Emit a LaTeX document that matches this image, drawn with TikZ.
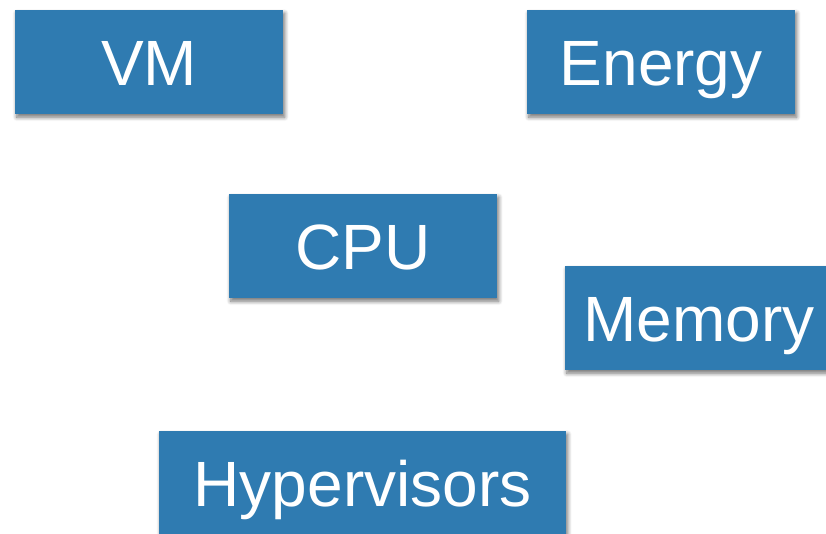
\documentclass[tikz,border=0pt]{standalone}
\usepackage{fontspec}
\setmainfont{Liberation Sans}
\usetikzlibrary{shadows.blur}
\definecolor{boxblue}{HTML}{2F7BB1}
\tikzset{
  tile/.style={rectangle, fill=boxblue, draw=none, anchor=north west,
    minimum width=268pt, minimum height=104pt, inner sep=0pt,
    text=white, font=\fontsize{64}{70}\selectfont,
    text height=46pt, text depth=0pt,
    blur shadow={shadow xshift=1.5pt, shadow yshift=-3pt, shadow blur radius=4pt, shadow blur steps=6, shadow opacity=55}},
}
\begin{document}
\begin{tikzpicture}[x=1pt,y=-1pt]
\useasboundingbox (0,0) rectangle (826,533);
\node[tile] (vm) at (15,10) {VM};
\node[tile] (energy) at (527,10) {Energy};
\node[tile] (cpu) at (229,194) {CPU};
\node[tile] (memory) at (565,266) {Memory};
\node[tile, minimum width=407pt] (hyp) at (159,431) {Hypervisors};
\end{tikzpicture}
\end{document}
